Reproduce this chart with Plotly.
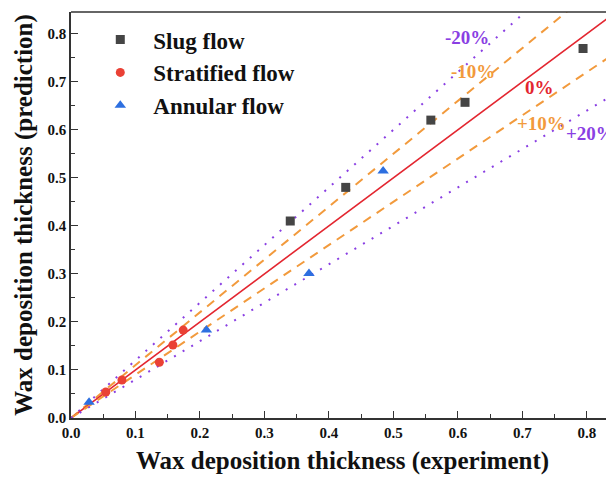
import plotly.graph_objects as go

# Data
slug_x = [0.340, 0.426, 0.558, 0.611, 0.794]
slug_y = [0.410, 0.480, 0.620, 0.657, 0.769]
strat_x = [0.054, 0.079, 0.137, 0.158, 0.174]
strat_y = [0.054, 0.079, 0.116, 0.152, 0.183]
ann_x = [0.028, 0.210, 0.369, 0.484]
ann_y = [0.033, 0.183, 0.301, 0.514]

ref_x = [0.0, 0.86]
ref_slopes = [1.2, 1.1, 1.0, 0.9, 0.8]
ref_labels = ["-20%", "-10%", "0%", "+10%", "+20%"]
label_x = [0.614, 0.623, 0.727, 0.730, 0.806]
label_y = [0.792, 0.721, 0.688, 0.613, 0.593]

purple = "#8a3fe3"
orange = "#f29a3c"
red = "#e32630"
SERIF = "Liberation Serif"

styles = {
    1.2: dict(color=purple, width=2, dash="2px,8px"),
    1.1: dict(color=orange, width=2, dash="9px,7px"),
    1.0: dict(color=red, width=1.6, dash="solid"),
    0.9: dict(color=orange, width=2, dash="9px,7px"),
    0.8: dict(color=purple, width=2, dash="2px,8px"),
}
label_colors = [purple, orange, red, orange, purple]

fig = go.Figure()
for k in ref_slopes:
    fig.add_trace(go.Scatter(x=ref_x, y=[k * v for v in ref_x], mode="lines",
                             line=styles[k], showlegend=False, hoverinfo="skip"))

fig.add_trace(go.Scatter(x=slug_x, y=slug_y, mode="markers", name="Slug flow",
                         marker=dict(symbol="square", size=9, color="#454545")))
fig.add_trace(go.Scatter(x=strat_x, y=strat_y, mode="markers", name="Stratified flow",
                         marker=dict(symbol="circle", size=9, color="#ea4135")))
fig.add_trace(go.Scatter(x=ann_x, y=ann_y, mode="markers", name="Annular flow",
                         marker=dict(symbol="triangle-up", size=10, color="#2d6fe0")))

for t, x, y, c in zip(ref_labels, label_x, label_y, label_colors):
    fig.add_annotation(x=x, y=y, text=t, showarrow=False,
                       font=dict(family=SERIF, size=19, color=c, weight="bold"))

axis_common = dict(
    showline=True, linecolor="#333", linewidth=1.5,
    ticks="inside", ticklen=7, tickwidth=1.2, tickcolor="#333",
    tickfont=dict(family=SERIF, size=15, color="#111", weight="bold"),
    showgrid=False, zeroline=False, automargin=False,
    dtick=0.1, tick0=0, tickformat=".1f",
    minor=dict(ticks="inside", ticklen=4, dtick=0.05, tickcolor="#333", showgrid=False),
)

fig.update_layout(
    width=614, height=482,
    margin=dict(l=63, r=8, t=4, b=72),
    plot_bgcolor="white", paper_bgcolor="white",
    xaxis=dict(range=[0, 0.842], **axis_common,
               title=dict(text="Wax deposition thickness (experiment)", standoff=12,
                          font=dict(family=SERIF, size=25, color="#111", weight="bold"))),
    yaxis=dict(range=[0, 0.845], **axis_common,
               title=dict(text="Wax deposition thickness (prediction)", standoff=8,
                          font=dict(family=SERIF, size=25, color="#111", weight="bold"))),
    legend=dict(x=0.03, y=0.985, xanchor="left", yanchor="top", itemwidth=56,
                bgcolor="rgba(0,0,0,0)", tracegroupgap=0,
                font=dict(family=SERIF, size=23, color="#111", weight="bold")),
    shapes=[dict(type="line", xref="paper", yref="paper", x0=0, x1=1, y0=1, y1=1,
                 line=dict(color="#333", width=1.5))],
)

fig.write_html("out.html")
